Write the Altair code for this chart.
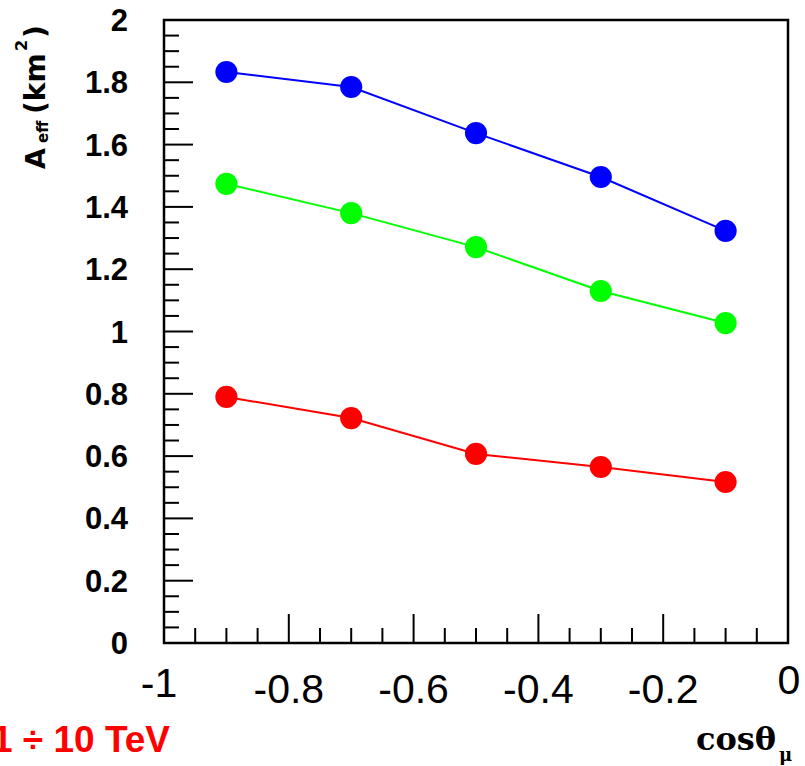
import altair as alt
import pandas as pd

# Effective area versus cos(theta_mu) for three curves
cos_theta = [-0.9, -0.7, -0.5, -0.3, -0.1]
aeff_blue = [1.833, 1.785, 1.637, 1.496, 1.323]
aeff_green = [1.474, 1.380, 1.271, 1.130, 1.027]
aeff_red = [0.790, 0.722, 0.607, 0.565, 0.517]
series_names = ["blue", "green", "red"]
series_colors = ["#0000ff", "#00ff00", "#ff0000"]

# Axis ticks and labels
x_major = [-1.0, -0.8, -0.6, -0.4, -0.2, 0.0]
x_labels = ["-1", "-0.8", "-0.6", "-0.4", "-0.2", "0"]
y_major = [0.0, 0.2, 0.4, 0.6, 0.8, 1.0, 1.2, 1.4, 1.6, 1.8, 2.0]
y_labels = ["0", "0.2", "0.4", "0.6", "0.8", "1", "1.2", "1.4", "1.6", "1.8", "2"]
x_minor = [round(-1 + 0.05 * i, 2) for i in range(21) if i % 4]
y_minor = [round(0.05 * i, 2) for i in range(41) if i % 4]

W, H = 624, 623
LEFT, TOP = 164, 20

rows = []
for name, vals in zip(series_names, [aeff_blue, aeff_green, aeff_red]):
    for c, a in zip(cos_theta, vals):
        rows.append({"series": name, "cos": c, "aeff": a})
df = pd.DataFrame(rows)

xs = alt.Scale(domain=[-1, 0], nice=False, zero=False)
ys = alt.Scale(domain=[0, 2], nice=False, zero=False)
color = alt.Color("series:N", scale=alt.Scale(domain=series_names, range=series_colors), legend=None)

base = alt.Chart(df).encode(
    x=alt.X("cos:Q", scale=xs, axis=None),
    y=alt.Y("aeff:Q", scale=ys, axis=None),
    color=color,
)
lines = base.mark_line(strokeWidth=2)
points = base.mark_point(shape="circle", filled=True, size=490, opacity=1)

def xtick_layer(vals, length):
    return alt.Chart(pd.DataFrame({"v": vals})).mark_rule(color="black", strokeWidth=2).encode(
        x=alt.X("v:Q", scale=xs, axis=None), y=alt.value(H), y2=alt.value(H - length)
    )

def ytick_layer(vals, length):
    return alt.Chart(pd.DataFrame({"v": vals})).mark_rule(color="black", strokeWidth=2).encode(
        y=alt.Y("v:Q", scale=ys, axis=None), x=alt.value(0), x2=alt.value(length)
    )

xlab_df = pd.DataFrame({"v": x_major, "t": x_labels})
xlab_inner = alt.Chart(xlab_df).transform_filter(
    "datum.v > -1 && datum.v < 0"
).mark_text(font="Liberation Sans", fontSize=41, baseline="alphabetic", align="center").encode(
    x=alt.X("v:Q", scale=xs, axis=None), y=alt.value(703 - TOP), text="t:N"
)
xlab_first = alt.Chart(xlab_df).transform_filter("datum.v <= -1").mark_text(
    font="Liberation Sans", fontSize=41, baseline="alphabetic", align="center", dx=-5
).encode(x=alt.X("v:Q", scale=xs, axis=None), y=alt.value(697 - TOP), text="t:N")
xlab_last = alt.Chart(xlab_df).transform_filter("datum.v >= 0").mark_text(
    font="Liberation Sans", fontSize=41, baseline="alphabetic", align="center", dx=1
).encode(x=alt.X("v:Q", scale=xs, axis=None), y=alt.value(694 - TOP), text="t:N")

ylab = alt.Chart(pd.DataFrame({"v": y_major, "t": y_labels})).mark_text(
    font="Liberation Sans", fontWeight="bold", fontSize=31, baseline="middle", align="right", dy=2
).encode(y=alt.Y("v:Q", scale=ys, axis=None), x=alt.value(128 - LEFT), text="t:N")

def label(text, ax, ay, size, font="DejaVu Sans", weight="bold", angle=0, align="left", fill="black"):
    props = dict(text=text, font=font, fontSize=size, fontWeight=weight, align=align,
                 baseline="alphabetic", color=fill)
    if angle:
        props["angle"] = angle
    return alt.Chart(pd.DataFrame({"k": [0]})).mark_text(**props).encode(
        x=alt.value(ax - LEFT), y=alt.value(ay - TOP)
    )

# y-axis title: A_eff (km^2), rotated to read upwards
ytitle = [
    label("A", 45, 169, 27, angle=270),
    label("eff", 48, 143, 15, angle=270),
    label("(km", 45, 114, 28, angle=270),
    label("2", 27, 51, 16, angle=270),
    label(")", 45, 38, 28, angle=270),
]
# x-axis title: cos(theta)_mu
xtitle = [
    label("cosθ", 696, 750, 32, font="DejaVu Serif"),
    label("μ", 779, 761, 18, font="DejaVu Serif"),
]
energy = label("1 ÷ 10 TeV", 170, 752, 37, font="Liberation Sans", align="right", fill="#ff0000")

chart = alt.layer(
    xtick_layer(x_minor, 15), xtick_layer(x_major, 29),
    ytick_layer(y_minor, 15), ytick_layer(y_major, 29),
    lines, points,
    xlab_inner, xlab_first, xlab_last, ylab,
    *ytitle, *xtitle, energy,
).properties(
    width=W, height=H,
    autosize=alt.AutoSizeParams(type="none"),
    padding={"left": LEFT, "top": TOP, "right": 805 - LEFT - W, "bottom": 766 - TOP - H},
    background="white",
).configure_view(stroke="black", strokeWidth=2.5)

chart.save("out.html", embed_options={"renderer": "svg", "actions": False})
